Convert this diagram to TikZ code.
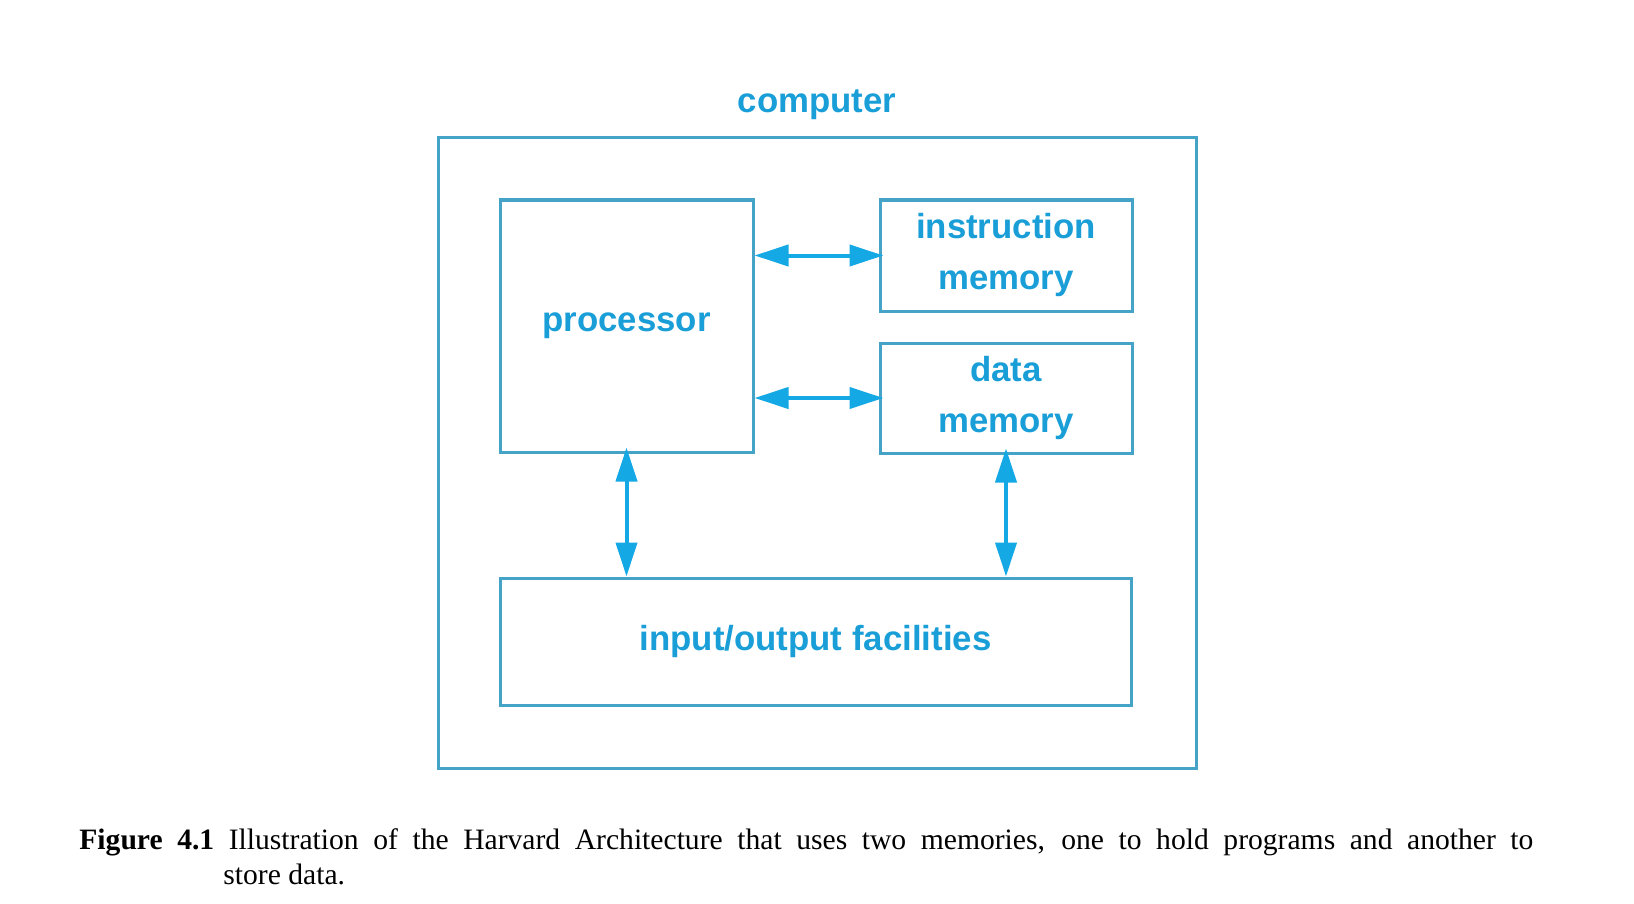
\documentclass[tikz,border=0pt]{standalone}
\usepackage{fontspec}
\setmainfont{Liberation Serif}
\setsansfont{Liberation Sans}
\usepackage{tikz}
\usetikzlibrary{positioning}
\usetikzlibrary{arrows.meta}
\definecolor{archtext}{RGB}{25,158,215}
\definecolor{archline}{RGB}{70,163,200}
\definecolor{archarrow}{RGB}{20,168,228}

\begin{document}
\begin{tikzpicture}[
  x=0.5pt, y=-0.5pt,
  node distance=62pt and 62pt,
  archbox/.style={draw=archline, line width=1.5pt, align=center, inner sep=0pt,
    text=archtext, font=\sffamily\bfseries\fontsize{17.4}{25.5}\selectfont},
  archlabel/.style={inner sep=0pt, text=archtext,
    font=\sffamily\bfseries\fontsize{17.4}{25.5}\selectfont},
  biarrow/.style={draw=archarrow, line width=2pt,
    arrows={Triangle[length=17pt,width=10.5pt]-Triangle[length=17pt,width=10.5pt]}}
]
\useasboundingbox (0,0) rectangle (1634,904);

\node[archbox, minimum width=379pt, minimum height=315pt] (comp) at (817,453) {};
\node[archlabel, above=8pt of comp] (complabel) {computer};

\node[archbox, minimum width=126.5pt, minimum height=126pt] (proc) at (626.5,326) {processor};
\node[archbox, minimum width=126pt, minimum height=55.5pt,
  right=62pt of proc.north east, anchor=north west] (imem) {instruction\\memory};
\node[archbox, minimum width=126pt, minimum height=55pt,
  below=14.5pt of imem] (dmem) {data\\memory};
\node[archbox, minimum width=315.5pt, minimum height=63.5pt,
  below=61.5pt of proc.south west, anchor=north west] (io) {input/output facilities};

\path (proc.east |- imem.west) edge[biarrow, shorten >=-2.5pt] (imem.west)
(proc.east |- dmem.west) edge[biarrow, shorten >=-2.5pt] (dmem.west)
(io.north -| proc.south) edge[biarrow, shorten >=-3pt] (proc.south)
(io.north -| dmem.south) edge[biarrow, shorten >=-3pt] (dmem.south)
;

\node[anchor=base west, inner sep=0pt, text width=727pt, align=justify,
  font=\fontsize{14.8}{17.5}\selectfont] (caption) at (79,849)
  {\hangindent=72pt\hangafter=1\textbf{Figure 4.1} Illustration of the Harvard Architecture that uses two memories, one to hold programs and another to\linebreak store data.\par};

\end{tikzpicture}
\end{document}
